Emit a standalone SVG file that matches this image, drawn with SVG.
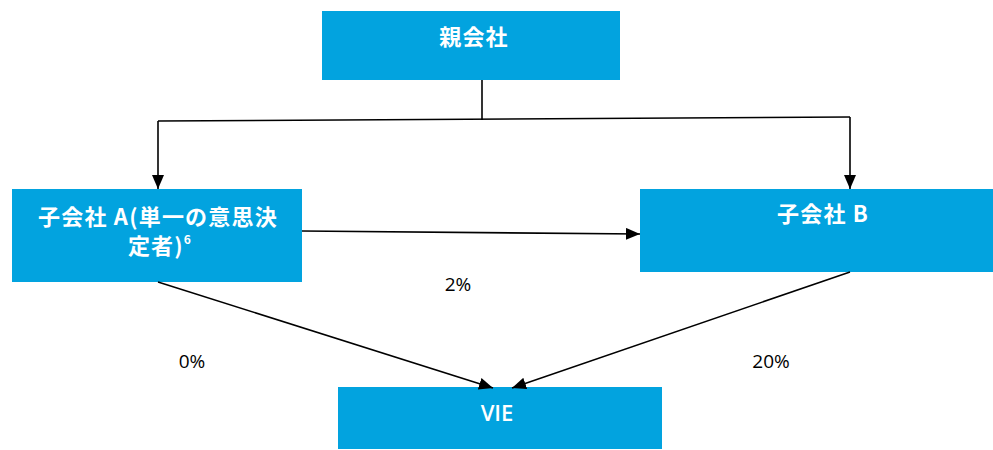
<svg xmlns="http://www.w3.org/2000/svg" width="993" height="450" viewBox="0 0 993 450">
<style>
.box{fill:#02A3DF}
.t{font-family:"Noto Sans CJK JP","Noto Sans",sans-serif;font-weight:bold;font-size:22px;letter-spacing:1.2px;fill:#fff;text-anchor:middle}
.v{font-family:"Open Sans","Liberation Sans",sans-serif;font-weight:600;font-size:22px;fill:#fff;text-anchor:middle}
.p{font-family:"Open Sans","Liberation Sans",sans-serif;font-size:19px;fill:#000;text-anchor:middle}
.c{stroke:#000;stroke-width:1.6;fill:none}
</style>
<defs>
<marker id="ah" markerWidth="14" markerHeight="12" refX="14" refY="6" orient="auto" markerUnits="userSpaceOnUse">
<path d="M0,0 L14,6 L0,12 Z" fill="#000"/>
</marker>
</defs>
<rect width="993" height="450" fill="#fff"/>
<g id="parent"><rect class="box" x="322" y="11" width="298" height="69"/><text class="t" x="474" y="45">親会社</text></g>
<g id="subA"><rect class="box" x="12" y="189" width="290" height="93"/><text class="t" x="158" y="225">子会社 A(単一の意思決</text><text class="t" x="160" y="254">定者)<tspan font-size="12" dy="-10">6</tspan></text></g>
<g id="subB"><rect class="box" x="640" y="189" width="353" height="83"/><text class="t" x="823" y="222">子会社 B</text></g>
<g id="vie"><rect class="box" x="338" y="387" width="324" height="62"/><text class="v" x="497" y="421">VIE</text></g>
<g id="connectors">
<path class="c" d="M482,80 L482,120"/>
<path class="c" d="M158,121 L850,117"/>
<path class="c" d="M158,121 L158,189" marker-end="url(#ah)"/>
<path class="c" d="M850,117 L850,189" marker-end="url(#ah)"/>
<path class="c" d="M302,231 L640,234" marker-end="url(#ah)"/>
<path class="c" d="M158,282 L493,388" marker-end="url(#ah)"/>
<path class="c" d="M850,272 L512,388" marker-end="url(#ah)"/>
</g>
<g id="labels">
<text class="p" x="458" y="291">2%</text>
<text class="p" x="192" y="368">0%</text>
<text class="p" x="771" y="368">20%</text>
</g>
</svg>
